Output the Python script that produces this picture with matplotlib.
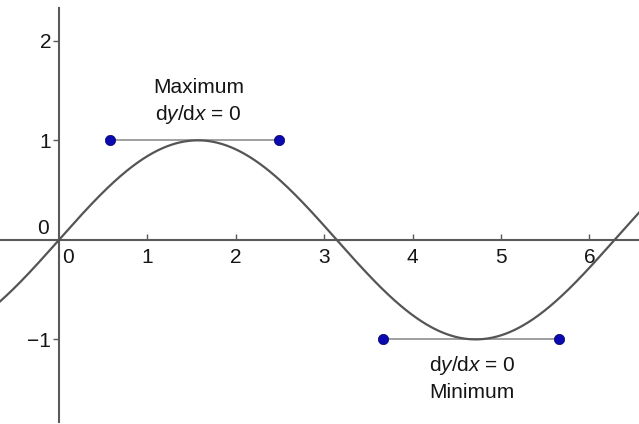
import numpy as np
import matplotlib
matplotlib.use("Agg")
import matplotlib.pyplot as plt

plt.rcParams['font.family'] = ['Liberation Sans', 'DejaVu Sans']
plt.rcParams['mathtext.fontset'] = 'custom'
plt.rcParams['mathtext.rm'] = 'Liberation Sans'
plt.rcParams['mathtext.it'] = 'Liberation Sans:italic'

# data
x_ticks = [1, 2, 3, 4, 5, 6]
y_ticks = [-1, 1, 2]
y_tick_labels = ['\u22121', '1', '2']
max_segment_x = [0.58, 2.49]
max_segment_y = [1, 1]
min_segment_x = [3.67, 5.66]
min_segment_y = [-1, -1]
curve_x = np.linspace(-0.667, 6.56, 600)
curve_y = np.sin(curve_x)

fig = plt.figure(figsize=(6.39, 4.24), dpi=100)
ax = fig.add_axes([0, 0, 1, 1])
ax.set_xlim(-0.667, 6.56)
ax.set_ylim(-1.85, 2.41)

axis_color = '#5a5a5a'
txt_color = '#151515'
ax.spines['left'].set_position(('data', 0))
ax.spines['bottom'].set_position(('data', 0))
ax.spines['right'].set_visible(False)
ax.spines['top'].set_visible(False)
for s in ('left', 'bottom'):
    ax.spines[s].set_color(axis_color)
    ax.spines[s].set_linewidth(1.5)
ax.spines['left'].set_bounds(-1.83, 2.33)

ax.set_xticks(x_ticks)
ax.set_xticklabels([str(t) for t in x_ticks])
ax.set_yticks(y_ticks)
ax.set_yticklabels(y_tick_labels)
ax.tick_params(axis='x', direction='in', length=4, width=1, color=axis_color,
               labelsize=15, pad=6, labelcolor=txt_color)
ax.tick_params(axis='y', direction='out', length=4, width=1, color=axis_color,
               labelsize=15, pad=1.5, labelcolor=txt_color)

ax.text(0.04, -0.08, '0', fontsize=15, ha='left', va='top', color=txt_color)
ax.text(-0.11, 0.02, '0', fontsize=15, ha='right', va='bottom', color=txt_color)

ax.plot(curve_x, curve_y, color='#555555', lw=1.6, zorder=3)

ax.plot(max_segment_x, max_segment_y, color='#999999', lw=1.3, zorder=2)
ax.plot(min_segment_x, min_segment_y, color='#999999', lw=1.3, zorder=2)
ax.scatter(max_segment_x, max_segment_y, s=55, color='#0a0ab0', edgecolor='#000060',
           linewidth=0.5, zorder=4)
ax.scatter(min_segment_x, min_segment_y, s=55, color='#0a0ab0', edgecolor='#000060',
           linewidth=0.5, zorder=4)

ax.text(1.58, 1.53, 'Maximum', fontsize=15, ha='center', va='center', color=txt_color)
ax.text(1.58, 1.26, 'd$y$/d$x$ = 0', fontsize=15, ha='center', va='center', color=txt_color)
ax.text(4.67, -1.26, 'd$y$/d$x$ = 0', fontsize=15, ha='center', va='center', color=txt_color)
ax.text(4.67, -1.53, 'Minimum', fontsize=15, ha='center', va='center', color=txt_color)

fig.savefig('out.png', dpi=100)
